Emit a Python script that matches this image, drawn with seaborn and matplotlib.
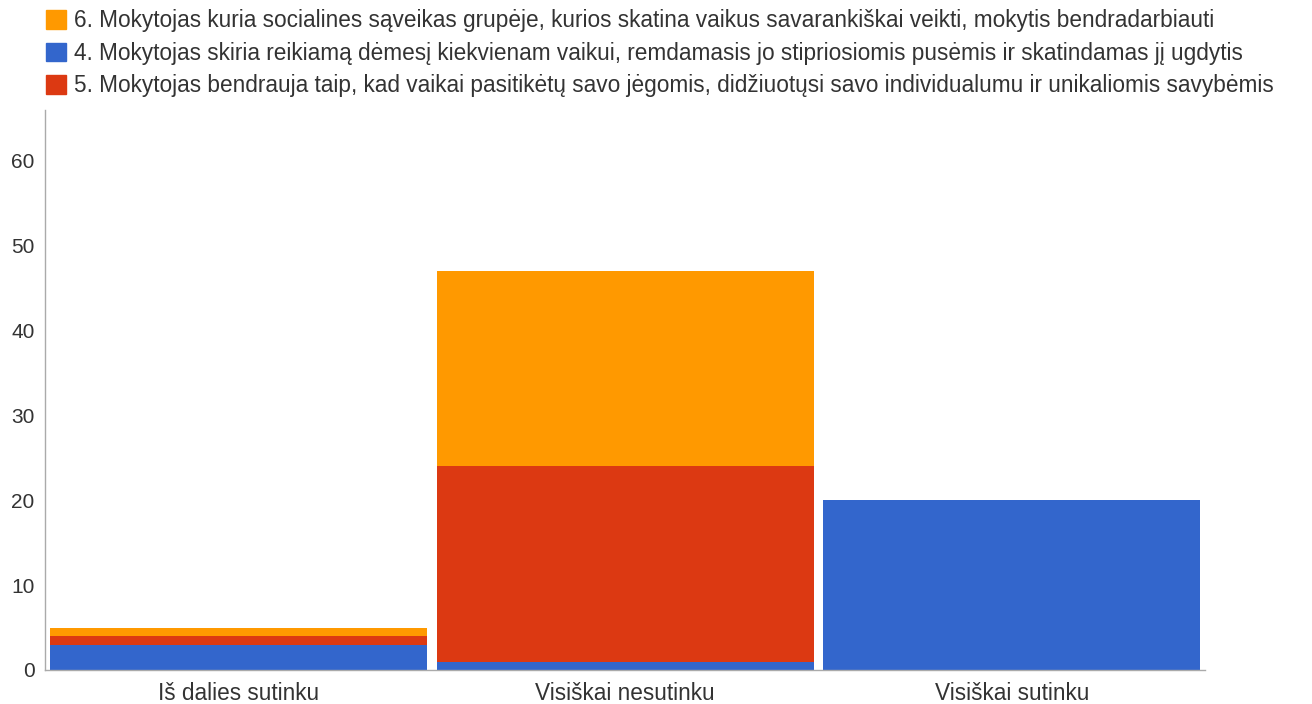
import pandas as pd
import seaborn as sns
import matplotlib.pyplot as plt
from matplotlib.patches import Patch

# duomenys
kategorijos = ["Iš dalies sutinku", "Visiškai nesutinku", "Visiškai sutinku"]
teiginys4 = [3, 1, 20]
teiginys5 = [1, 23, 0]
teiginys6 = [1, 23, 0]

pav4 = "4. Mokytojas skiria reikiamą dėmesį kiekvienam vaikui, remdamasis jo stipriosiomis pusėmis ir skatindamas jį ugdytis"
pav5 = "5. Mokytojas bendrauja taip, kad vaikai pasitikėtų savo jėgomis, didžiuotųsi savo individualumu ir unikaliomis savybėmis"
pav6 = "6. Mokytojas kuria socialines sąveikas grupėje, kurios skatina vaikus savarankiškai veikti, mokytis bendradarbiauti"

spalva4 = "#3366CC"
spalva5 = "#DC3912"
spalva6 = "#FF9900"

sns.set_style("white")
plt.rcParams["font.family"] = ["Liberation Sans", "DejaVu Sans"]

tabela = pd.DataFrame({"kategorija": kategorijos, "s4": teiginys4, "s5": teiginys5, "s6": teiginys6})
# sukauptos sumos stulpeliams sudeti vienas ant kito
tabela["iki5"] = tabela["s4"] + tabela["s5"]
tabela["iki6"] = tabela["iki5"] + tabela["s6"]

fig = plt.figure(figsize=(13.12, 7.04), dpi=100)
ax = fig.add_axes([0.0343, 0.0483, 0.8842, 0.7957])

for stulp, spalva in [("iki6", spalva6), ("iki5", spalva5), ("s4", spalva4)]:
    sns.barplot(data=tabela, x="kategorija", y=stulp, color=spalva, saturation=1,
                width=0.975, linewidth=0, ax=ax)

ax.set_xlim(-0.5, 2.5)
ax.set_ylim(0, 66)
ax.set_yticks(range(0, 61, 10))
ax.set_xlabel("")
ax.set_ylabel("")
for s in ["top", "right"]:
    ax.spines[s].set_visible(False)
for s in ["left", "bottom"]:
    ax.spines[s].set_color("#aaaaaa")
    ax.spines[s].set_linewidth(1)
ax.tick_params(axis="both", colors="#aaaaaa", labelcolor="#333333", labelsize=15, length=4, width=0.8)
ax.tick_params(axis="x", labelsize=16.3, pad=5)

rankenos = [Patch(color=spalva6), Patch(color=spalva4), Patch(color=spalva5)]
fig.legend(rankenos, [pav6, pav4, pav5], loc="upper left", bbox_to_anchor=(46 / 1312, 1 - 9 / 704),
           frameon=False, fontsize=16.3, handlelength=0.9, handleheight=0.9,
           handletextpad=0.35, labelspacing=0.43, borderpad=0, borderaxespad=0,
           labelcolor="#333333")

fig.savefig("out.png", dpi=100)
